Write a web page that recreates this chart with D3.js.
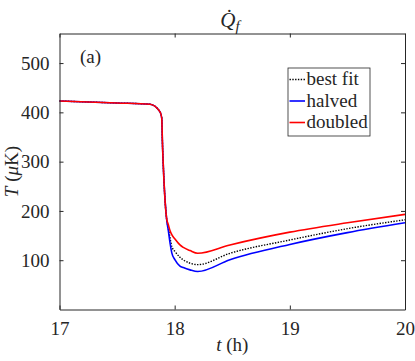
<!DOCTYPE html>
<html>
<head>
<meta charset="utf-8">
<script src="https://cdn.jsdelivr.net/npm/d3@7"></script>
</head>
<body style="margin:0; background:#fff">
<div id="chart"></div>
<script>
// time in hours, shared by the three runs
const timeH = [17.0, 17.5, 17.786, 17.873, 17.888, 17.893, 17.907, 17.93, 17.945, 17.96, 17.975,
               18.003, 18.046, 18.075, 18.133, 18.2, 18.48, 19.0, 19.5, 20.0];
// temperature (uK) for each run
const bestFit = [423, 419, 416.5, 401, 388, 345, 262, 184, 165, 145, 128,
                 117.5, 106, 100.7, 94, 91, 114, 141, 164, 182];
const halved  = [423, 419, 416.5, 401, 388, 345, 262, 184, 160, 134.5, 115,
                 100.7, 88, 85, 80.4, 77, 101, 132, 156, 176];
const doubled = [423, 419, 416.5, 401, 388, 345, 262, 185, 172, 160, 152,
                 143, 131, 126, 119.5, 114, 131, 157, 176, 193];

const seriesNames = ["best fit", "halved", "doubled"];
const xTicks = [17, 18, 19, 20];
const yTicks = [100, 200, 300, 400, 500];

const width = 415, height = 361;
const margin = { top: 33.5, right: 10, bottom: 51.5, left: 59.5 };

const svg = d3.select("#chart").append("svg")
    .attr("width", width)
    .attr("height", height);

const x = d3.scaleLinear().domain([17, 20]).range([margin.left, width - margin.right]);
const y = d3.scaleLinear().domain([0, 560]).range([height - margin.bottom, margin.top]);

const styles = [
    { color: "#000", width: 1.4, dash: "1.4,1.4" },
    { color: "#0000ff", width: 1.6, dash: null },
    { color: "#ff0000", width: 1.6, dash: null }
];
const runs = [bestFit, halved, doubled];

// the curves
const line = d3.line()
    .x(d => x(d[0]))
    .y(d => y(d[1]))
    .curve(d3.curveMonotoneX);

runs.forEach((vals, i) => {
    svg.append("path")
        .datum(timeH.map((t, k) => [t, vals[k]]))
        .attr("d", line)
        .attr("fill", "none")
        .attr("stroke", styles[i].color)
        .attr("stroke-width", styles[i].width)
        .attr("stroke-dasharray", styles[i].dash);
});

// axes, with ticks pointing inwards on all four sides (matlab box)
const axisColor = "#262626";
const tickLen = 4;
const fs = 19;

svg.append("g")
    .attr("transform", `translate(0,${height - margin.bottom})`)
    .call(d3.axisBottom(x).tickValues(xTicks).tickSizeInner(-tickLen).tickSizeOuter(0).tickPadding(12).tickFormat(d3.format("d")))
    .call(g => g.selectAll("text").attr("dy", "0.71em"));
svg.append("g")
    .attr("transform", `translate(0,${margin.top})`)
    .call(d3.axisTop(x).tickValues(xTicks).tickSizeInner(-tickLen).tickSizeOuter(0).tickFormat(""));
svg.append("g")
    .attr("transform", `translate(${margin.left},0)`)
    .call(d3.axisLeft(y).tickValues(yTicks).tickSizeInner(-tickLen).tickSizeOuter(0).tickPadding(10).tickFormat(d3.format("d")));
svg.append("g")
    .attr("transform", `translate(${width - margin.right},0)`)
    .call(d3.axisRight(y).tickValues(yTicks).tickSizeInner(-tickLen).tickSizeOuter(0).tickFormat(""));

svg.selectAll(".domain, .tick line").attr("stroke", axisColor).attr("stroke-width", 1);

// title Q-dot sub f
const title = svg.append("text")
    .attr("x", 230).attr("y", 27)
    .attr("text-anchor", "middle")
    .style("font-size", "21px");
title.append("tspan").style("font-style", "italic").text("Q\u0307");
title.append("tspan").style("font-style", "italic").style("font-size", "15px").attr("dy", 4).text("f");

// axis labels
const xl = svg.append("text")
    .attr("x", x(18.5)).attr("y", 351)
    .attr("text-anchor", "middle");
xl.append("tspan").style("font-style", "italic").text("t");
xl.append("tspan").text(" (h)");

const yl = svg.append("text")
    .attr("transform", `translate(18,${(margin.top + height - margin.bottom) / 2}) rotate(-90)`)
    .attr("text-anchor", "middle");
yl.append("tspan").style("font-style", "italic").text("T");
yl.append("tspan").text(" (");
yl.append("tspan").style("font-style", "italic").text("\u03bc");
yl.append("tspan").text("K)");

// panel tag
svg.append("text")
    .attr("x", 80).attr("y", 63)
    .text("(a)");

// legend
const legend = svg.append("g").attr("transform", "translate(288,68)");
legend.append("rect")
    .attr("width", 82).attr("height", 68)
    .attr("fill", "#fff")
    .attr("stroke", axisColor)
    .attr("stroke-width", 0.8);
seriesNames.forEach((name, i) => {
    const cy = 11.5 + i * 21.5;
    legend.append("line")
        .attr("x1", 1.5).attr("x2", 17)
        .attr("y1", cy).attr("y2", cy)
        .attr("stroke", styles[i].color)
        .attr("stroke-width", styles[i].width)
        .attr("stroke-dasharray", styles[i].dash);
    legend.append("text")
        .attr("x", 18.5).attr("y", cy + 5.5)
        .text(name);
});

// one serif font for every label, set inline so the axis defaults don't win
svg.selectAll("text")
    .style("font-family", "'Liberation Serif'")
    .attr("fill", axisColor);
svg.selectAll("text").filter(function () { return !this.style.fontSize; })
    .style("font-size", fs + "px");
</script>
</body>
</html>
